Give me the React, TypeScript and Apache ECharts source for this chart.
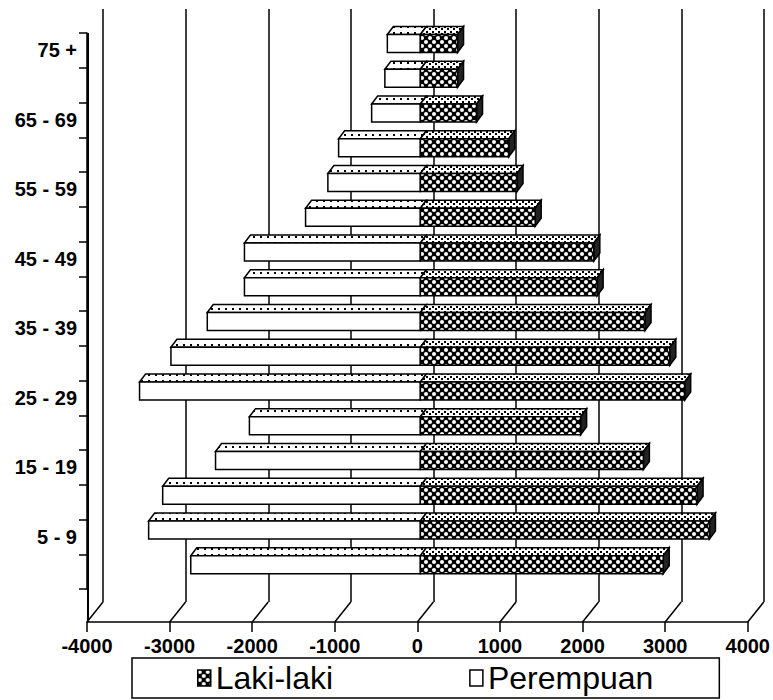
import React, { useEffect, useRef } from "react";
import * as echarts from "echarts";

const categories = [
  "0 - 4", "5 - 9", "10 - 14", "15 - 19", "20 - 24", "25 - 29", "30 - 34", "35 - 39",
  "40 - 44", "45 - 49", "50 - 54", "55 - 59", "60 - 64", "65 - 69", "70 - 74", "75 +",
];
const lakiLaki = [2940, 3500, 3350, 2700, 1940, 3200, 3020, 2720, 2140, 2100, 1390, 1170, 1070, 680, 450, 450];
const perempuan = [2780, 3290, 3120, 2480, 2070, 3400, 3020, 2580, 2130, 2130, 1390, 1120, 990, 590, 430, 400];
const xTicks = [-4000, -3000, -2000, -1000, 0, 1000, 2000, 3000, 4000];

const FONT = "'Liberation Sans', Arial, sans-serif";
const DEPTH_X = 16;
const DEPTH_Y = 20;
const FLOOR_OFFSET = 33;
const BAR_DX = 6;
const BAR_DY = 8;
const BAR_SHIFT = 3;

function makePattern(draw: (ctx: CanvasRenderingContext2D, w: number, h: number) => void, w: number, h: number) {
  const c = document.createElement("canvas");
  c.width = w;
  c.height = h;
  const ctx = c.getContext("2d") as CanvasRenderingContext2D;
  draw(ctx, w, h);
  return { image: c, repeat: "repeat", imageWidth: w, imageHeight: h } as any;
}

export default function App() {
  const ref = useRef<HTMLDivElement>(null);

  useEffect(() => {
    if (!ref.current) return;
    const chart = echarts.init(ref.current, undefined, { renderer: "svg" });

    const hatch = makePattern((ctx, w, h) => {
      ctx.fillStyle = "#000";
      ctx.fillRect(0, 0, w, h);
      ctx.fillStyle = "#fff";
      ctx.beginPath();
      ctx.arc(2, 2, 2, 0, Math.PI * 2);
      ctx.fill();
      ctx.beginPath();
      ctx.arc(6, 6, 2, 0, Math.PI * 2);
      ctx.fill();
    }, 8, 8);
    const hatchTop = makePattern((ctx, w, h) => {
      ctx.fillStyle = "#fff";
      ctx.fillRect(0, 0, w, h);
      ctx.fillStyle = "#000";
      ctx.fillRect(0, 1, 2, 2);
      ctx.fillRect(3, 3, 2, 2);
    }, 6, 5);
    const dotTop = makePattern((ctx, w, h) => {
      ctx.fillStyle = "#fff";
      ctx.fillRect(0, 0, w, h);
      ctx.fillStyle = "#000";
      ctx.fillRect(1, 2, 2, 2);
    }, 7, 6);

    const makeBar = (kind: "L" | "P") => (params: any, api: any) => {
      const v = api.value(0);
      const idx = api.value(1);
      const p0 = api.coord([0, idx]);
      const p1 = api.coord([v, idx]);
      const band = api.size([0, 1])[1];
      const x0 = p0[0] + BAR_SHIFT;
      const x1 = p1[0] + BAR_SHIFT;
      const top = p0[1] - band / 2 + 1.5;
      const h = band * 0.52;
      const bottom = top + h;
      const stroke = { stroke: "#000", lineWidth: 1.5 };
      const left = Math.min(x0, x1);
      const right = Math.max(x0, x1);
      const children: any[] = [];
      children.push({
        type: "polygon",
        shape: { points: [[left, top], [left + BAR_DX, top - BAR_DY], [right + BAR_DX, top - BAR_DY], [right, top]] },
        style: { fill: kind === "L" ? hatchTop : dotTop, ...stroke },
      });
      if (kind === "L") {
        children.push({
          type: "polygon",
          shape: { points: [[right, top], [right + BAR_DX, top - BAR_DY], [right + BAR_DX, bottom - BAR_DY], [right, bottom]] },
          style: { fill: "#222", ...stroke },
        });
      }
      children.push({
        type: "rect",
        shape: { x: left, y: top, width: right - left, height: h },
        style: { fill: kind === "L" ? hatch : "#fff", ...stroke },
      });
      return { type: "group", children };
    };

    const floorRender = (params: any, api: any) => {
      const x = api.coord([api.value(0), 0])[0];
      const cs = params.coordSys;
      const floorY = cs.y + cs.height + FLOOR_OFFSET;
      const children: any[] = [
        {
          type: "line",
          shape: { x1: x, y1: floorY, x2: x + DEPTH_X, y2: floorY - DEPTH_Y },
          style: { stroke: "#000", lineWidth: 1.5 },
        },
      ];
      if (api.value(0) === xTicks[0]) {
        children.push({
          type: "line",
          shape: { x1: x + 1, y1: cs.y, x2: x + 1, y2: floorY },
          style: { stroke: "#000", lineWidth: 2 },
        });
      }
      return { type: "group", children };
    };

    chart.setOption({
      animation: false,
      backgroundColor: "#fff",
      grid: [
        { left: 87, right: 25, top: 33, bottom: 111 },
        { left: 87 + DEPTH_X, right: 25 - DEPTH_X, top: 9, bottom: 111 - FLOOR_OFFSET + DEPTH_Y },
      ],
      xAxis: [
        {
          type: "value",
          gridIndex: 0,
          min: -4000,
          max: 4000,
          interval: 1000,
          offset: FLOOR_OFFSET,
          axisLine: { show: true, onZero: false, lineStyle: { color: "#000", width: 1.5 } },
          axisTick: { show: true, length: 10, lineStyle: { color: "#000", width: 1.5 } },
          axisLabel: {
            color: "#000",
            fontSize: 20,
            fontWeight: "bold",
            fontFamily: FONT,
            margin: 14,
            formatter: (v: number) => String(v),
          },
          splitLine: { show: false },
        },
        {
          type: "value",
          gridIndex: 1,
          min: -4000,
          max: 4000,
          interval: 1000,
          axisLine: { show: false },
          axisTick: { show: false },
          axisLabel: { show: false },
          splitLine: { show: true, lineStyle: { color: "#000", width: 1.5 } },
        },
      ],
      yAxis: [
        {
          type: "category",
          gridIndex: 0,
          data: categories,
          boundaryGap: true,
          axisLine: { show: true, onZero: false, lineStyle: { color: "#000", width: 1.5 } },
          axisTick: { show: true, interval: 0, length: 8, lineStyle: { color: "#000", width: 1.5 } },
          axisLabel: {
            color: "#000",
            fontSize: 20,
            fontWeight: "bold",
            fontFamily: FONT,
            margin: 10,
            interval: (i: number) => i % 2 === 1,
          },
          splitLine: { show: false },
        },
        { type: "value", gridIndex: 1, show: false },
      ],
      legend: {
        left: 132,
        top: 658,
        orient: "horizontal",
        padding: [4, 66, 4, 65],
        itemGap: 136,
        itemWidth: 13,
        itemHeight: 16,
        borderColor: "#000",
        borderWidth: 1.5,
        icon: "rect",
        textStyle: { color: "#000", fontSize: 32, fontFamily: FONT, lineHeight: 32 },
        data: [
          { name: "Laki-laki", itemStyle: { color: hatch, borderColor: "#000", borderWidth: 1.5 } },
          { name: "Perempuan", itemStyle: { color: "#fff", borderColor: "#000", borderWidth: 1.5 } },
        ],
      },
      series: [
        {
          type: "custom",
          name: "floor",
          xAxisIndex: 0,
          yAxisIndex: 0,
          silent: true,
          clip: false,
          z: 5,
          renderItem: floorRender,
          data: xTicks.map((v) => [v, 0]),
        },
        {
          type: "custom",
          name: "Perempuan",
          xAxisIndex: 0,
          yAxisIndex: 0,
          clip: false,
          z: 3,
          itemStyle: { color: "#fff", borderColor: "#000" },
          renderItem: makeBar("P"),
          data: perempuan.map((v, i) => [-v, i]),
        },
        {
          type: "custom",
          name: "Laki-laki",
          xAxisIndex: 0,
          yAxisIndex: 0,
          clip: false,
          z: 4,
          itemStyle: { color: "#555", borderColor: "#000" },
          renderItem: makeBar("L"),
          data: lakiLaki.map((v, i) => [v, i]),
        },
      ],
    });

    return () => chart.dispose();
  }, []);

  return (
    <div
      ref={ref}
      style={{ position: "fixed", left: 0, top: 0, width: 773, height: 700, background: "#fff" }}
    />
  );
}
